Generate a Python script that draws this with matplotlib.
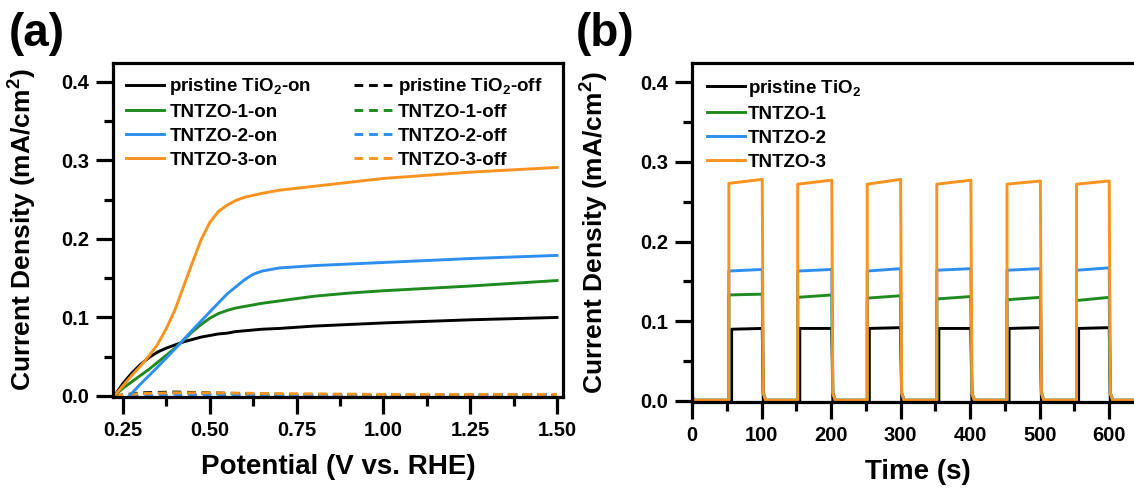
"""
Photocurrent plots: (a) LSV under chopped light, (b) transient on/off response
"""

import numpy as np
import matplotlib
matplotlib.use("Agg")
import matplotlib.pyplot as plt
from matplotlib.ticker import MultipleLocator, FormatStrFormatter


# ── Style ────────────────────────────────────────────────────────────────────
plt.rcParams["font.family"] = ["Liberation Sans", "DejaVu Sans"]
plt.rcParams["font.weight"] = "bold"
plt.rcParams["mathtext.fontset"] = "custom"
plt.rcParams["mathtext.bf"] = "Liberation Sans:bold"
plt.rcParams["mathtext.rm"] = "Liberation Sans:bold"
plt.rcParams["mathtext.default"] = "bf"

BLACK  = "#000000"
GREEN  = "#1f8a1f"
BLUE   = "#2f8ff0"
ORANGE = "#f8931f"
LW     = 2.1


# ── Data (a): LSV, on ────────────────────────────────────────────────────────
pot_on = [0.225, 0.25, 0.275, 0.30, 0.325, 0.35, 0.375, 0.40, 0.425, 0.45, 0.475,
          0.50, 0.525, 0.55, 0.575, 0.60, 0.65, 0.70, 0.80, 0.90, 1.00, 1.25, 1.50]
j_tio2_on   = [0.0, 0.016, 0.029, 0.040, 0.049, 0.056, 0.061, 0.065, 0.069, 0.072,
               0.075, 0.077, 0.079, 0.080, 0.082, 0.083, 0.085, 0.086, 0.089, 0.091,
               0.093, 0.097, 0.100]
j_tntzo1_on = [0.0, 0.010, 0.018, 0.026, 0.034, 0.043, 0.052, 0.061, 0.071, 0.082,
               0.091, 0.099, 0.105, 0.109, 0.112, 0.114, 0.118, 0.121, 0.127, 0.131,
               0.134, 0.140, 0.147]
j_tntzo3_on = [0.0, 0.013, 0.026, 0.038, 0.051, 0.066, 0.086, 0.110, 0.140, 0.170,
               0.199, 0.221, 0.235, 0.243, 0.249, 0.253, 0.258, 0.262, 0.267, 0.272,
               0.277, 0.285, 0.291]

pot_on_2 = [0.268, 0.30, 0.35, 0.40, 0.45, 0.50, 0.55, 0.60, 0.625, 0.65, 0.70,
            0.80, 1.00, 1.25, 1.50]
j_tntzo2_on = [0.0, 0.015, 0.037, 0.060, 0.084, 0.107, 0.130, 0.148, 0.155, 0.159,
               0.163, 0.166, 0.170, 0.175, 0.179]

# ── Data (a): LSV, off (dark) ────────────────────────────────────────────────
pot_off = [0.225, 0.30, 0.40, 0.50, 0.70, 1.00, 1.50]
j_tio2_off   = [0.0, 0.004, 0.005, 0.004, 0.002, 0.001, 0.001]
j_tntzo1_off = [0.0, 0.003, 0.004, 0.003, 0.002, 0.001, 0.001]
j_tntzo3_off = [0.0, 0.003, 0.004, 0.004, 0.003, 0.002, 0.002]
pot_off_2    = [0.27, 0.30, 0.40, 0.50, 0.70, 1.00, 1.50]
j_tntzo2_off = [-0.002, 0.000, 0.001, 0.002, 0.001, 0.001, 0.002]

# ── Data (b): chopped light transients ───────────────────────────────────────
t_on      = [53, 152, 252, 352, 453, 553]
t_off     = [101, 201, 300, 401, 501, 600]
t_on_tio2 = [57, 155, 255, 355, 456, 556]

tio2_start   = [0.090, 0.091, 0.091, 0.091, 0.091, 0.091]
tio2_end     = [0.091, 0.091, 0.092, 0.091, 0.092, 0.092]
tntzo1_start = [0.133, 0.130, 0.129, 0.128, 0.127, 0.126]
tntzo1_end   = [0.134, 0.133, 0.132, 0.131, 0.130, 0.130]
tntzo2_start = [0.163, 0.163, 0.163, 0.164, 0.164, 0.164]
tntzo2_end   = [0.165, 0.165, 0.166, 0.166, 0.166, 0.167]
tntzo3_start = [0.273, 0.272, 0.272, 0.272, 0.272, 0.272]
tntzo3_end   = [0.278, 0.277, 0.278, 0.277, 0.276, 0.276]

dark_tio2   = 0.0
dark_tntzo  = 0.001
decay_tail  = 0.010   # current just after light switched off
t_end       = 650


def chopped(ons, offs, starts, ends, dark, tail):
    t, j = [0.0], [dark + 0.003]
    t.append(5.0); j.append(dark)
    for a, b, s, e in zip(ons, offs, starts, ends):
        t += [a, a, b, b + 1.5, b + 5]
        j += [dark, s, e, tail, dark]
    t.append(t_end); j.append(dark)
    return t, j


# ── Axes helper ──────────────────────────────────────────────────────────────
def style_axes(ax):
    for sp in ax.spines.values():
        sp.set_linewidth(2.3)
    ax.tick_params(which="major", direction="out", length=12, width=2.3,
                   labelsize=14.5, pad=5, top=False, right=False)
    ax.tick_params(which="minor", direction="out", length=6.5, width=2.3,
                   top=False, right=False)
    for lab in ax.get_xticklabels() + ax.get_yticklabels():
        lab.set_fontweight("bold")
    ax.set_ylim(-0.0013, 0.424)
    ax.yaxis.set_major_locator(MultipleLocator(0.1))
    ax.yaxis.set_minor_locator(MultipleLocator(0.05))
    ax.yaxis.set_major_formatter(FormatStrFormatter("%.1f"))
    ax.set_ylabel("Current Density (mA/cm$^2$)", fontsize=19, fontweight="bold")


fig = plt.figure(figsize=(11.34, 4.94), dpi=100)
leg_prop = {"weight": "bold", "size": 13.5}

# ── Panel (a) ────────────────────────────────────────────────────────────────
ax1 = fig.add_axes([113 / 1134, 1 - 397 / 494, 450 / 1134, 334 / 494])
dash = (3, 2)
ax1.plot(pot_off, j_tio2_off, color=BLACK, lw=LW, dashes=dash)
ax1.plot(pot_off, j_tntzo1_off, color=GREEN, lw=LW, dashes=dash)
ax1.plot(pot_off_2, j_tntzo2_off, color=BLUE, lw=LW, dashes=dash)
ax1.plot(pot_off, j_tntzo3_off, color=ORANGE, lw=LW, dashes=dash)

h_on = [
    ax1.plot(pot_on, j_tio2_on, color=BLACK, lw=LW)[0],
    ax1.plot(pot_on, j_tntzo1_on, color=GREEN, lw=LW)[0],
    ax1.plot(pot_on_2, j_tntzo2_on, color=BLUE, lw=LW)[0],
    ax1.plot(pot_on, j_tntzo3_on, color=ORANGE, lw=LW)[0],
]
h_off = [plt.Line2D([], [], color=c, lw=LW, dashes=dash)
         for c in (BLACK, GREEN, BLUE, ORANGE)]
labels_on  = ["pristine TiO$_2$-on", "TNTZO-1-on", "TNTZO-2-on", "TNTZO-3-on"]
labels_off = ["pristine TiO$_2$-off", "TNTZO-1-off", "TNTZO-2-off", "TNTZO-3-off"]

style_axes(ax1)
ax1.set_xlim(0.2212, 1.5173)
ax1.xaxis.set_major_locator(MultipleLocator(0.25))
ax1.xaxis.set_minor_locator(MultipleLocator(0.125))
ax1.xaxis.set_major_formatter(FormatStrFormatter("%.2f"))
ax1.set_xlabel("Potential (V vs. RHE)", fontsize=20, fontweight="bold", labelpad=10)
ax1.yaxis.set_label_coords(-0.165, 0.5)
ax1.legend(h_on + h_off, labels_on + labels_off, ncol=2, loc="upper left",
           bbox_to_anchor=(0.0, 1.0), frameon=False,
           handlelength=2.0, handletextpad=0.3, columnspacing=2.3,
           labelspacing=0.36, borderaxespad=0.3, prop=leg_prop)

# ── Panel (b) ────────────────────────────────────────────────────────────────
ax2 = fig.add_axes([692 / 1134, 1 - 402 / 494, 452 / 1134, 339 / 494])
series_b = [
    ("pristine TiO$_2$", BLACK, t_on_tio2, tio2_start, tio2_end, dark_tio2, dark_tio2),
    ("TNTZO-1", GREEN, t_on, tntzo1_start, tntzo1_end, dark_tntzo, decay_tail),
    ("TNTZO-2", BLUE, t_on, tntzo2_start, tntzo2_end, dark_tntzo, decay_tail),
    ("TNTZO-3", ORANGE, t_on, tntzo3_start, tntzo3_end, dark_tntzo, decay_tail),
]
for label, color, ons, s, e, dark, tail in series_b:
    t, j = chopped(ons, t_off, s, e, dark, tail)
    ax2.plot(t, j, color=color, lw=LW, label=label)

style_axes(ax2)
ax2.set_xlim(0, t_end)
ax2.xaxis.set_major_locator(MultipleLocator(100))
ax2.xaxis.set_minor_locator(MultipleLocator(50))
ax2.set_xlabel("Time (s)", fontsize=20, fontweight="bold", labelpad=10)
ax2.yaxis.set_label_coords(-0.18, 0.5)
ax2.legend(loc="upper left", bbox_to_anchor=(0.0, 1.0), frameon=False,
           handlelength=2.0, handletextpad=0.2, labelspacing=0.36,
           borderaxespad=0.4, prop=leg_prop)

fig.text(0.008, 0.975, "(a)", fontsize=33, fontweight="bold", va="top")
fig.text(0.508, 0.975, "(b)", fontsize=33, fontweight="bold", va="top")

fig.savefig("out.png", dpi=100)
